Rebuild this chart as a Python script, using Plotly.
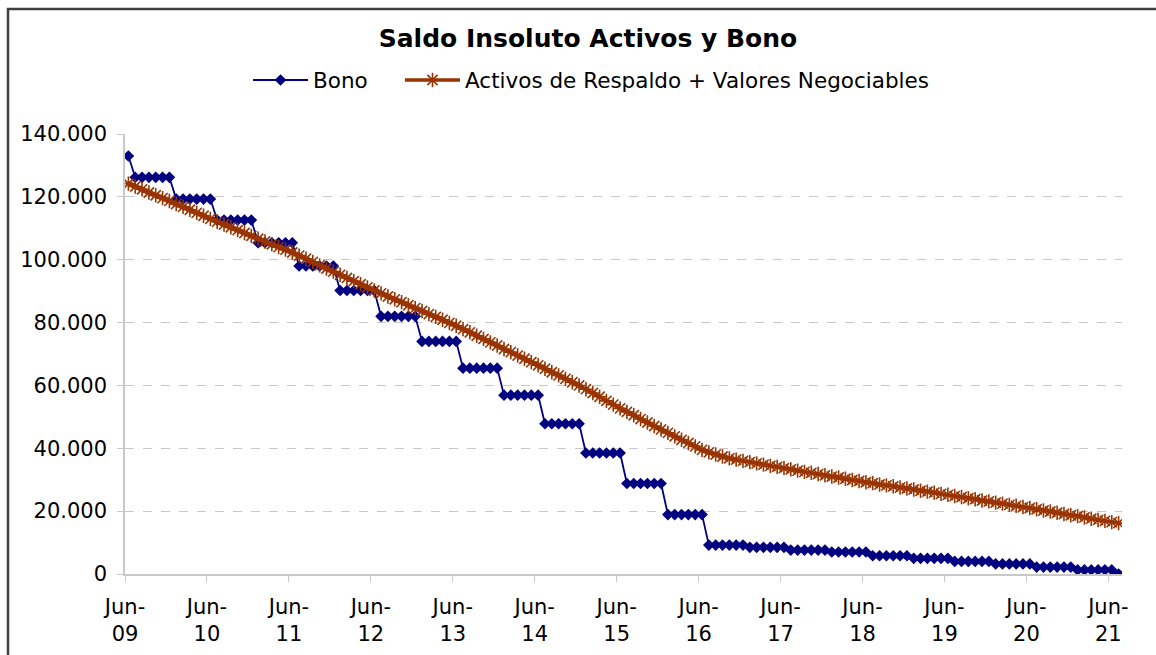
import plotly.graph_objects as go

# Month index 0 = Jun-09 ... 145 (monthly points)
bono = (
    [133.0]
    + [126.2] * 6 + [119.3] * 6 + [112.6] * 6 + [105.4] * 6
    + [98.0] * 6 + [90.2] * 6 + [82.0] * 6 + [74.0] * 6
    + [65.5] * 6 + [56.9] * 6 + [47.8] * 6 + [38.5] * 6
    + [28.8] * 6 + [18.9] * 6 + [9.2] * 6 + [8.5] * 6
    + [7.6] * 6 + [7.0] * 6 + [5.8] * 6 + [5.0] * 6
    + [4.0] * 6 + [3.2] * 6 + [2.2] * 6 + [1.3] * 6
    + [0.0]
)

activos = [
    124.2, 123.3, 122.4, 121.4, 120.5, 119.6, 118.7, 117.7, 116.8, 115.9, 114.9, 114.0, 113.0,
    112.1, 111.2, 110.3, 109.4, 108.5, 107.6, 106.7, 105.8, 104.9, 104.0, 103.2, 102.3,
    101.3, 100.3, 99.3, 98.2, 97.2, 96.2, 95.2, 94.2, 93.2, 92.2, 91.2, 90.2,
    89.3, 88.3, 87.4, 86.5, 85.5, 84.6, 83.7, 82.7, 81.8, 80.9, 79.9, 79.0,
    77.9, 76.9, 75.8, 74.8, 73.7, 72.7, 71.6, 70.6, 69.5, 68.5, 67.4, 66.4,
    65.3, 64.2, 63.2, 62.1, 61.0, 60.0, 58.8, 57.6, 56.4, 55.1, 53.9, 52.7,
    51.6, 50.5, 49.3, 48.2, 47.1, 46.0, 44.9, 43.8, 42.7, 41.7, 40.6, 39.5,
    38.7, 38.0, 37.4, 36.8, 36.4, 36.0, 35.6, 35.2, 34.8, 34.4, 34.1, 33.7,
    33.3, 32.9, 32.5, 32.2, 31.8, 31.4, 31.0, 30.7, 30.3, 29.9, 29.6, 29.2,
    28.9, 28.5, 28.2, 27.9, 27.5, 27.2, 26.9, 26.5, 26.2, 25.9, 25.5, 25.2,
    24.8, 24.5, 24.1, 23.8, 23.4, 23.1, 22.7, 22.4, 22.0, 21.7, 21.3, 21.0,
    20.6, 20.2, 19.9, 19.5, 19.1, 18.7, 18.4, 18.0, 17.6, 17.2, 16.9, 16.5,
    16.2,
]

months = list(range(len(bono)))

x_tick_labels = ["Jun-<br>09", "Jun-<br>10", "Jun-<br>11", "Jun-<br>12", "Jun-<br>13",
                 "Jun-<br>14", "Jun-<br>15", "Jun-<br>16", "Jun-<br>17", "Jun-<br>18",
                 "Jun-<br>19", "Jun-<br>20", "Jun-<br>21"]
x_tick_positions = [-0.5 + 12 * i for i in range(len(x_tick_labels))]

y_tick_values = [0, 20, 40, 60, 80, 100, 120, 140]
y_tick_labels = ["0", "20.000", "40.000", "60.000", "80.000", "100.000", "120.000", "140.000"]

FONT = "DejaVu Sans"

fig = go.Figure()
fig.add_trace(go.Scatter(
    x=months, y=bono, name="Bono", mode="lines+markers", legend="legend",
    line=dict(color="#000080", width=1.8),
    marker=dict(symbol="diamond", size=9, color="#000080"),
))
fig.add_trace(go.Scatter(
    x=months, y=activos, name="Activos de Respaldo + Valores Negociables",
    mode="lines+markers", legend="legend2",
    line=dict(color="#993300", width=3.5),
    marker=dict(symbol="asterisk-open", size=12, color="#993300",
                line=dict(color="#993300", width=1.6)),
))

L, R, T, B = 125, 1122, 134, 574
W, H = 1156, 655
pw, ph = R - L, B - T

def px_x(p):
    return (p - L) / pw

def px_y(p):
    return (B - p) / ph

legend_common = dict(orientation="h", xanchor="left", y=px_y(80), yanchor="middle",
                     font=dict(family=FONT, size=21.5, color="#000000"), itemwidth=55,
                     bgcolor="rgba(0,0,0,0)")

fig.update_layout(
    width=W, height=H,
    margin=dict(l=L, r=W - R, t=T, b=H - B, autoexpand=False),
    paper_bgcolor="white", plot_bgcolor="white",
    font=dict(family=FONT, size=21, color="#000000"),
    title=dict(text="<b>Saldo Insoluto Activos y Bono</b>", x=588 / W, xanchor="center",
               y=1 - 38 / H, yanchor="middle", font=dict(family=FONT, size=25, color="#000000")),
    showlegend=True,
    legend=dict(x=px_x(248), **legend_common),
    legend2=dict(x=px_x(400), **legend_common),
    xaxis=dict(range=[-0.5, 145.5], tickmode="array", tickvals=x_tick_positions,
               ticktext=x_tick_labels, showgrid=False, zeroline=False, showline=True,
               linecolor="#c8c8c8", linewidth=1.5, ticks="outside", ticklen=6,
               tickcolor="#c8c8c8", ticklabelstandoff=7, automargin=False,
               tickfont=dict(family=FONT, size=21, color="#000000")),
    yaxis=dict(range=[0, 140], tickmode="array", tickvals=y_tick_values, ticktext=y_tick_labels,
               showgrid=True, gridcolor="#c8c8c8", griddash="dash", gridwidth=1,
               zeroline=False, showline=True, linecolor="#c8c8c8", linewidth=1.5,
               ticks="outside", ticklen=6, tickcolor="#c8c8c8", ticklabelstandoff=6,
               automargin=False,
               tickfont=dict(family=FONT, size=21, color="#000000")),
    shapes=[dict(type="rect", xref="paper", yref="paper",
                 x0=px_x(8), x1=px_x(1220), y0=px_y(720), y1=px_y(9),
                 line=dict(color="#404040", width=2.5), layer="below")],
)

fig.write_html("out.html", config={"displayModeBar": False},
               post_script="document.body.style.margin='0';document.body.style.overflow='hidden';")
